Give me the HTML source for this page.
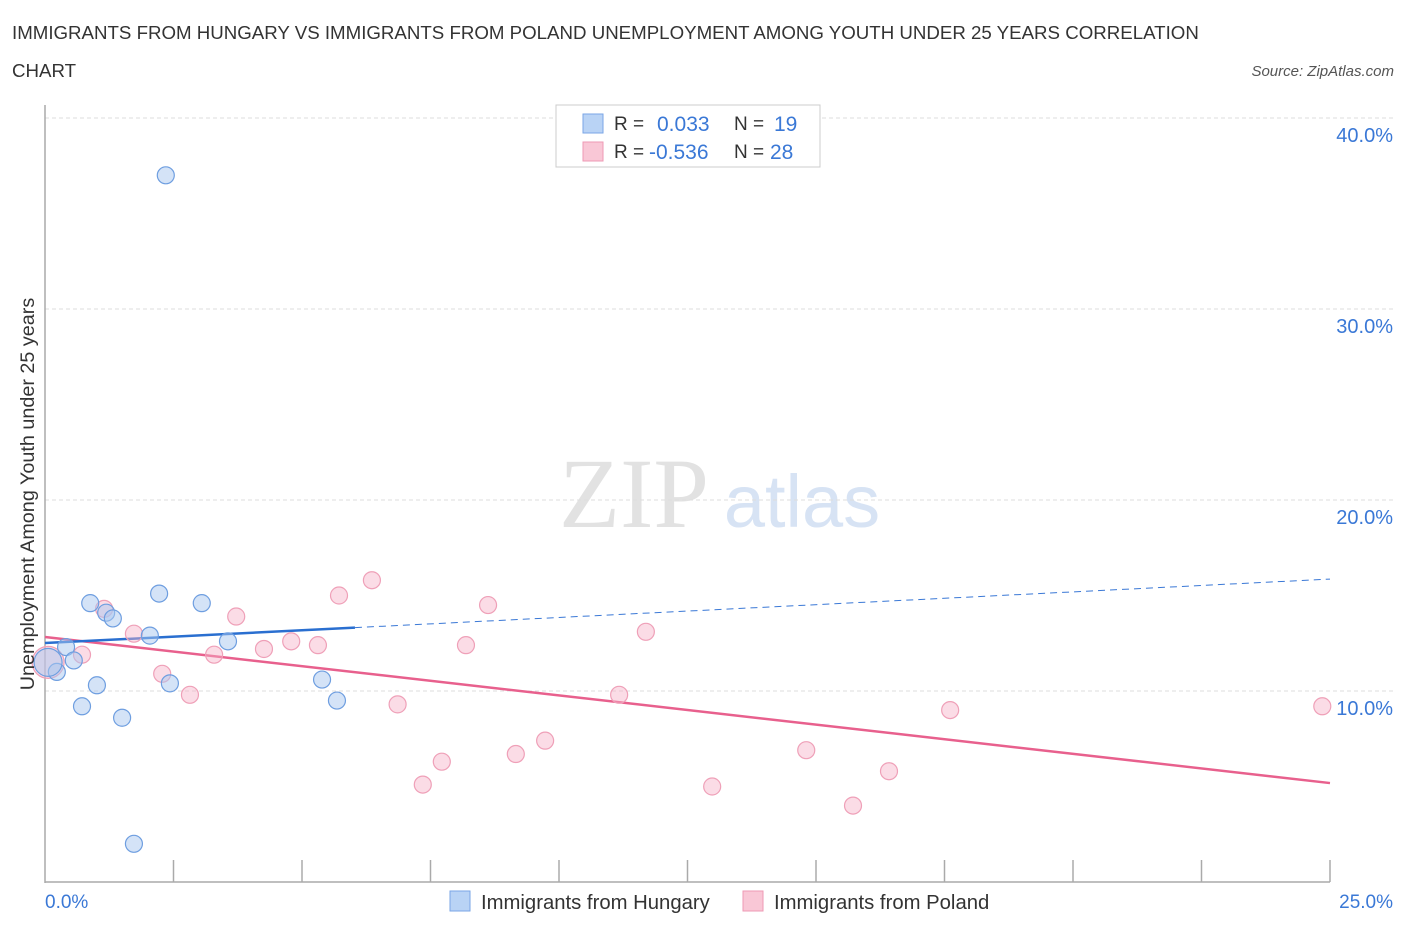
<!DOCTYPE html>
<html><head><meta charset="utf-8"><style>
body{margin:0;background:#fff;font-family:"Liberation Sans",sans-serif;}
svg text{font-family:"Liberation Sans",sans-serif;}
</style></head><body>
<svg width="1406" height="930" id="chart">
<text x="12" y="39" font-size="18.7" fill="#333">IMMIGRANTS FROM HUNGARY VS IMMIGRANTS FROM POLAND UNEMPLOYMENT AMONG YOUTH UNDER 25 YEARS CORRELATION</text>
<text x="12" y="77" font-size="18.7" fill="#333">CHART</text>
<text x="1394" y="76" font-size="15" fill="#555" font-style="italic" text-anchor="end">Source: ZipAtlas.com</text>
<text x="634" y="527" font-size="100" fill="#e2e2e2" text-anchor="middle" style="font-family:'Liberation Serif',serif">ZIP</text>
<text x="802" y="527" font-size="74" fill="#d7e3f4" text-anchor="middle">atlas</text>
<g id="grid"></g><g id="axes"></g><g id="lines"></g><g id="points"></g>
<text transform="translate(34,494) rotate(-90)" font-size="19.8" fill="#333" text-anchor="middle">Unemployment Among Youth under 25 years</text>
<text x="45" y="908" font-size="19" fill="#3a78d6">0.0%</text>
<text x="1393" y="908" font-size="19" fill="#3a78d6" text-anchor="end">25.0%</text>
<g>
<rect x="556" y="105" width="264" height="62" fill="#fff" stroke="#ccc"/>
<rect x="583" y="114" width="20" height="19" fill="#b9d3f5" stroke="#7aa6e6"/>
<rect x="583" y="142" width="20" height="19" fill="#f9c7d6" stroke="#ee9ab4"/>
<text x="614" y="130" font-size="19" fill="#333">R = </text><text x="657" y="131" font-size="21" fill="#3a78d6">0.033</text>
<text x="734" y="130" font-size="19" fill="#333">N = </text><text x="774" y="131" font-size="21" fill="#3a78d6">19</text>
<text x="614" y="158" font-size="19" fill="#333">R = </text><text x="649" y="159" font-size="21" fill="#3a78d6">-0.536</text>
<text x="734" y="158" font-size="19" fill="#333">N = </text><text x="770" y="159" font-size="21" fill="#3a78d6">28</text>
</g>
<g>
<rect x="450" y="891" width="20" height="20" fill="#b9d3f5" stroke="#7aa6e6"/>
<text x="481" y="909" font-size="20.3" fill="#333">Immigrants from Hungary</text>
<rect x="743" y="891" width="20" height="20" fill="#f9c7d6" stroke="#ee9ab4"/>
<text x="774" y="909" font-size="20.3" fill="#333">Immigrants from Poland</text>
</g>
</svg>
<script>
const yTicks=[10,20,30,40];
const yTickLabels=["10.0%","20.0%","30.0%","40.0%"];
const hungaryX=[2.35,2.22,3.05,0.88,1.19,1.32,2.04,3.56,0.41,0.56,0.23,0.06,1.01,2.43,5.39,0.72,1.50,5.68,1.73];
const hungaryY=[37.0,15.1,14.6,14.6,14.1,13.8,12.9,12.6,12.3,11.6,11.0,11.5,10.3,10.4,10.6,9.2,8.6,9.5,2.0];
const polandX=[0.06,1.15,1.73,0.72,2.28,2.82,3.29,3.72,4.26,4.79,5.31,5.72,6.36,6.86,7.35,7.72,8.19,8.62,9.16,9.73,11.17,11.69,12.98,14.81,15.72,16.42,17.61,24.85];
const polandY=[11.5,14.3,13.0,11.9,10.9,9.8,11.9,13.9,12.2,12.6,12.4,15.0,15.8,9.3,5.1,6.3,12.4,14.5,6.7,7.4,9.8,13.1,5.0,6.9,4.0,5.8,9.0,9.2];
const trendHungary=[12.51,15.86], trendPoland=[12.83,5.18];
const hungarySolidEnd=6.03;
const NS="http://www.w3.org/2000/svg";
const X=v=>45+v/25*1285, Y=v=>882-v*19.1;
function mk(tag,attrs,parent){const e=document.createElementNS(NS,tag);for(const k in attrs)e.setAttribute(k,attrs[k]);document.getElementById(parent).appendChild(e);return e;}
yTicks.forEach((t,i)=>{
 const g=mk('line',{x1:45,x2:1393,y1:Y(t),y2:Y(t),stroke:'#ddd','stroke-dasharray':'4,3'},'grid');
 
 
 const l=mk('text',{x:1393,y:Y(t)+24,'font-size':20,fill:'#3a78d6','text-anchor':'end'},'grid');
 l.textContent=yTickLabels[i];
 
 
});
const ax=mk('line',{x1:45,x2:45,y1:105,y2:883,stroke:'#aaa','stroke-width':1.5},'axes');


const bx=mk('line',{x1:45,x2:1330,y1:882,y2:882,stroke:'#aaa','stroke-width':1.5},'axes');


for(let i=1;i<=10;i++){const t=mk('line',{x1:45+i*128.5,x2:45+i*128.5,y1:860,y2:882,stroke:'#aaa','stroke-width':1.5},'axes');
 
 }
const hv=x=>trendHungary[0]+(trendHungary[1]-trendHungary[0])*x/25;
const pv=x=>trendPoland[0]+(trendPoland[1]-trendPoland[0])*x/25;
let l1=mk('line',{x1:X(hungarySolidEnd),y1:Y(hv(hungarySolidEnd)),x2:X(25),y2:Y(hv(25)),stroke:'#3a78d6','stroke-width':1,'stroke-dasharray':'7,5'},'lines');


let l3=mk('line',{x1:X(0),y1:Y(pv(0)),x2:X(25),y2:Y(pv(25)),stroke:'#e8608d','stroke-width':2.5},'lines');


let l2=mk('line',{x1:X(0),y1:Y(hv(0)),x2:X(hungarySolidEnd),y2:Y(hv(hungarySolidEnd)),stroke:'#2a6fd0','stroke-width':2.5},'lines');


polandX.forEach((x,i)=>{const c=mk('circle',{cx:X(x),cy:Y(polandY[i]),r:i==0?16:8.5,fill:'rgba(246,178,199,0.45)',stroke:'#efa0b8','stroke-width':1.2},'points');
 
 });
hungaryX.forEach((x,i)=>{const c=mk('circle',{cx:X(x),cy:Y(hungaryY[i]),r:i==11?14:8.5,fill:'rgba(170,200,240,0.5)',stroke:'#6e9ee0','stroke-width':1.2},'points');
 
 });
</script>
</body></html>
